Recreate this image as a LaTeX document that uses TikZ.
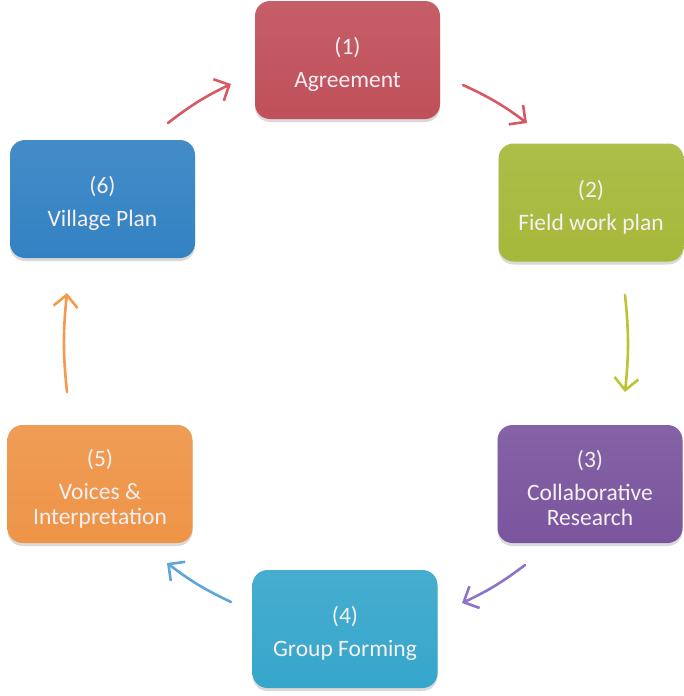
\documentclass[tikz,border=0pt]{standalone}
\usepackage{fontspec}
\setmainfont{Carlito}
\usetikzlibrary{arrows.meta,shadows}
\definecolor{c1}{HTML}{C0505A}
\definecolor{c2}{HTML}{A6B83A}
\definecolor{c3}{HTML}{7A559E}
\definecolor{c4}{HTML}{36A6CB}
\definecolor{c5}{HTML}{EE9447}
\definecolor{c6}{HTML}{3382C3}
\definecolor{a1}{HTML}{D65A63}
\definecolor{a3}{HTML}{BCC434}
\definecolor{a4}{HTML}{8E72CC}
\definecolor{a5}{HTML}{5CA6DA}
\definecolor{a6}{HTML}{F59A4C}
\definecolor{txt}{HTML}{F6F0F2}
\newcommand{\topstrut}{\rule{0pt}{26pt}}
\tikzset{
  box/.style={rounded corners=15pt, minimum width=185pt, minimum height=118pt,
    text=txt, align=center, font=\fontsize{23.5}{25}\selectfont,
    top color=#1!92!white, bottom color=#1,
    drop shadow={opacity=0.3, shadow xshift=0pt, shadow yshift=-3pt}},
  flow/.style={draw=#1, line width=2.6pt, line cap=round,
    -{Straight Barb[length=12pt,width=24pt,line width=2.6pt]}, bend left=6}
}
\begin{document}
\begin{tikzpicture}[x=1pt,y=-1pt]
\useasboundingbox (0,0) rectangle (684,696);
\node[box=c1] (b1) at (347.5,60) {\topstrut(1)\\[8pt]Agreement};
\node[box=c2] (b2) at (591,202.5) {\topstrut(2)\\[8pt]Field work plan};
\node[box=c3] (b3) at (590,484) {\topstrut(3)\\[8pt]Collaborative\\Research};
\node[box=c4] (b4) at (345,629) {\topstrut(4)\\[8pt]Group Forming};
\node[box=c5] (b5) at (100,484) {\topstrut(5)\\[8pt]Voices \&\\Interpretation};
\node[box=c6] (b6) at (102.5,199) {\topstrut(6)\\[8pt]Village Plan};
\coordinate (s1) at (168,123); \coordinate (t1) at (231,84);
\coordinate (s2) at (463,85);  \coordinate (t2) at (527,123);
\coordinate (s3) at (625,295); \coordinate (t3) at (625,392);
\coordinate (s4) at (525,565); \coordinate (t4) at (462,603);
\coordinate (s5) at (231,602); \coordinate (t5) at (167,563);
\coordinate (s6) at (67,392);  \coordinate (t6) at (67,293);
\draw[flow=a1] (s1) to (t1);
\draw[flow=a1] (s2) to (t2);
\draw[flow=a3] (s3) to (t3);
\draw[flow=a4] (s4) to (t4);
\draw[flow=a5] (s5) to (t5);
\draw[flow=a6] (s6) to (t6);
\end{tikzpicture}
\end{document}
